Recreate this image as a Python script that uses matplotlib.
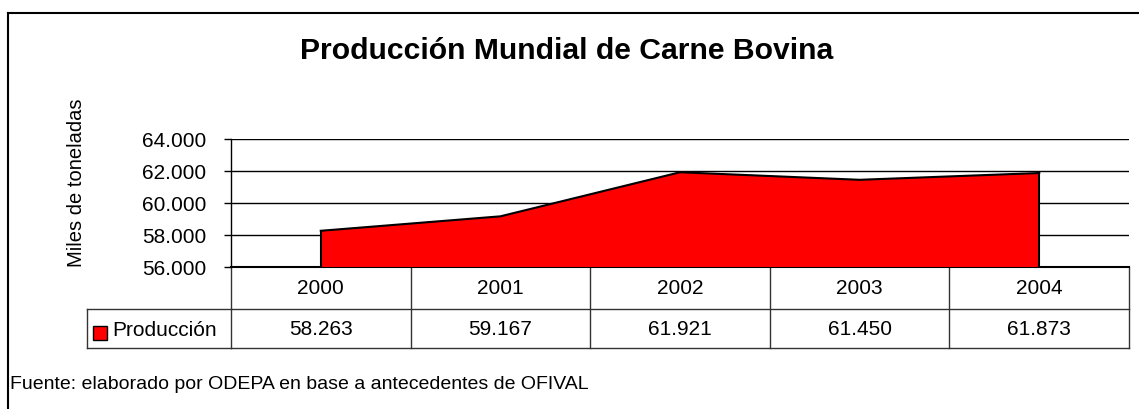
import matplotlib.pyplot as plt
from matplotlib.patches import Rectangle

plt.rcParams['font.family'] = ['Liberation Sans', 'DejaVu Sans']

# data
years = ['2000', '2001', '2002', '2003', '2004']
produccion = [58263, 59167, 61921, 61450, 61873]
serie = 'Producción'
titulo = 'Producción Mundial de Carne Bovina'
fuente = 'Fuente: elaborado por ODEPA en base a antecedentes de OFIVAL'


def miles(v):
    return f'{v:,.0f}'.replace(',', '.')


W, H = 1139, 410
fig = plt.figure(figsize=(W / 100, H / 100), dpi=100)

# plot area in pixel coords
left, right, top, bottom = 231, 1129, 140, 268
ax = fig.add_axes([left / W, 1 - bottom / H, (right - left) / W, (bottom - top) / H])

x = list(range(len(years)))
ax.fill_between(x, produccion, 56000, facecolor='#ff0000', edgecolor='none', zorder=3)
ax.plot(x, produccion, color='black', lw=1.5, zorder=4)
ax.plot([x[0], x[0]], [56000, produccion[0]], color='black', lw=1.5, zorder=4)
ax.plot([x[-1], x[-1]], [56000, produccion[-1]], color='black', lw=1.5, zorder=4)

ax.set_xlim(-0.5, len(years) - 0.5)
ax.set_ylim(56000, 64000)
ax.set_yticks([56000, 58000, 60000, 62000, 64000])
ax.set_yticklabels([miles(v) for v in ax.get_yticks()], fontsize=15)
ax.tick_params(axis='y', length=5, width=1, pad=13, direction='out')
ax.set_xticks([])
ax.yaxis.grid(True, color='black', lw=1)
ax.set_axisbelow(True)
for s in ['top', 'right']:
    ax.spines[s].set_visible(False)
ax.spines['left'].set_linewidth(1)
ax.spines['bottom'].set_linewidth(1.5)

# data table under the plot
tr = ax.get_xaxis_transform()
ph = bottom - top
r1 = -(310 - bottom) / ph
r2 = -(349 - bottom) / ph
leg_x = (87 - left) / (right - left)
lc = '#333333'
kw = dict(color=lc, lw=1, clip_on=False, transform=tr)
ax.plot([-0.5, len(years) - 0.5], [r1, r1], **kw)
ax.plot([-0.5, len(years) - 0.5], [r2, r2], **kw)
for i in range(len(years) + 1):
    ax.plot([i - 0.5, i - 0.5], [0, r2], **kw)
ax.plot([leg_x, 0], [r1, r1], color=lc, lw=1, clip_on=False, transform=ax.transAxes)
ax.plot([leg_x, 0], [r2, r2], color=lc, lw=1, clip_on=False, transform=ax.transAxes)
ax.plot([leg_x, leg_x], [r1, r2], color=lc, lw=1, clip_on=False, transform=ax.transAxes)

for i, (yr, v) in enumerate(zip(years, produccion)):
    ax.text(i, r1 / 2, yr, ha='center', va='center', fontsize=15, transform=tr)
    ax.text(i, (r1 + r2) / 2, miles(v), ha='center', va='center', fontsize=15, transform=tr)

fig.patches.append(Rectangle((93 / W, 1 - 341 / H), 14 / W, 14 / H, facecolor='#ff0000',
                             edgecolor='black', lw=1, transform=fig.transFigure))
fig.text(112 / W, 1 - 330 / H, serie, ha='left', va='center', fontsize=15)

# title, axis label, source
fig.text(567 / W, 1 - 51 / H, titulo, ha='center', va='center', fontsize=21.7, fontweight='bold')
fig.text(77 / W, 1 - 183 / H, 'Miles de toneladas', rotation=90, ha='center', va='center', fontsize=14.5)
fig.text(10 / W, 1 - 385 / H, fuente, ha='left', va='center', fontsize=14)

# outer frame
fig.add_artist(plt.Line2D([8 / W, 8 / W], [0, 1 - 14 / H], color='black', lw=1.5))
fig.add_artist(plt.Line2D([8 / W, 1], [1 - 14 / H, 1 - 14 / H], color='black', lw=1.5))

fig.savefig('out.png', dpi=100)
